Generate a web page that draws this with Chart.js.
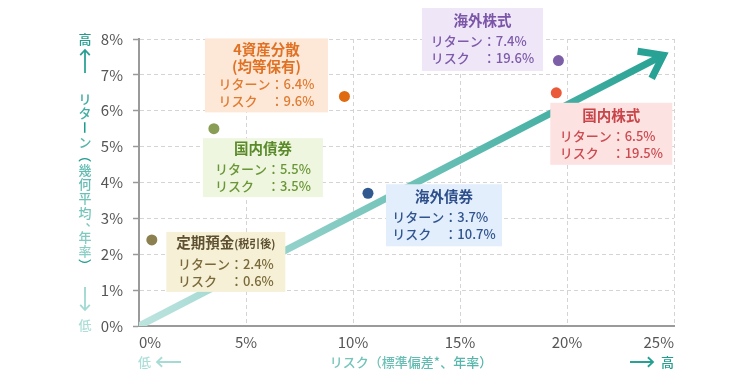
<!DOCTYPE html>
<html>
<head>
<meta charset="utf-8">
<script src="https://cdn.jsdelivr.net/npm/chart.js@4.4.1/dist/chart.umd.min.js"></script>
<style>
  html, body { margin: 0; padding: 0; background: #fff; }
</style>
</head>
<body>
<canvas id="myChart" width="750" height="380"></canvas>
<script>
// data
const assetNames = ['定期預金', '国内債券', '4資産分散', '海外債券', '国内株式', '海外株式'];
const assetNotes = ['(税引後)', '', '(均等保有)', '', '', ''];
const assetRisk = [0.6, 3.5, 9.6, 10.7, 19.5, 19.6];
const assetReturn = [2.4, 5.5, 6.4, 3.7, 6.5, 7.4];
const xTicks = [0, 5, 10, 15, 20, 25];
const yTicks = [0, 1, 2, 3, 4, 5, 6, 7, 8];
const arrowX = [0, 24.5];
const arrowY = [0, 7.55];

const FONT = "'Noto Sans CJK JP', 'Noto Sans', sans-serif";

// box placement / colours (offset from the dot)
const boxLayout = [
  { dx: 74, dy: 22, w: 119, h: 60, bg: '#f6f0d6', head: '#5e5030', text: '#7a6a3a', dot: '#8c8050', inline: true },
  { dx: 49, dy: 39, w: 120, h: 59, bg: '#eef6e0', head: '#5a8a2a', text: '#6a9636', dot: '#8a9d55' },
  { dx: -78, dy: -21, w: 123, h: 74, bg: '#fde8d8', head: '#e07225', text: '#e07b30', dot: '#e06a10' },
  { dx: 76, dy: 22, w: 116, h: 62, bg: '#e2eefb', head: '#2e4f8c', text: '#30548f', dot: '#305a8f' },
  { dx: 55, dy: 41, w: 122, h: 62, bg: '#fde2e2', head: '#c8454a', text: '#cc4b50', dot: '#ea5a3a' },
  { dx: -76, dy: -21, w: 121, h: 63, bg: '#efe6f8', head: '#7a55a8', text: '#7d5aaa', dot: '#7d5fa8' }
];

function arrowLine(ctx, x1, y1, x2, y2, arm) {
  const ang = Math.atan2(y2 - y1, x2 - x1);
  ctx.beginPath();
  ctx.moveTo(x1, y1);
  ctx.lineTo(x2, y2);
  ctx.moveTo(x2 - arm * Math.cos(ang - 0.75), y2 - arm * Math.sin(ang - 0.75));
  ctx.lineTo(x2, y2);
  ctx.lineTo(x2 - arm * Math.cos(ang + 0.75), y2 - arm * Math.sin(ang + 0.75));
  ctx.stroke();
}

const arrowHeadPlugin = {
  id: 'arrowHead',
  afterDatasetDraw(chart, args) {
    if (args.index !== 0) return;
    const ctx = chart.ctx;
    const pts = args.meta.data;
    const a = pts[pts.length - 2], b = pts[pts.length - 1];
    const ang = Math.atan2(b.y - a.y, b.x - a.x);
    const len = 26, spread = 0.63;
    ctx.save();
    ctx.strokeStyle = '#27a294';
    ctx.lineWidth = 7;
    ctx.lineJoin = 'miter';
    ctx.lineCap = 'butt';
    ctx.beginPath();
    ctx.moveTo(b.x - len * Math.cos(ang - spread), b.y - len * Math.sin(ang - spread));
    ctx.lineTo(b.x, b.y);
    ctx.lineTo(b.x - len * Math.cos(ang + spread), b.y - len * Math.sin(ang + spread));
    ctx.stroke();
    ctx.restore();
  }
};

const boxPlugin = {
  id: 'assetBoxes',
  afterDatasetsDraw(chart) {
    const ctx = chart.ctx;
    const pts = chart.getDatasetMeta(1).data;
    pts.forEach((pt, i) => {
      const b = boxLayout[i];
      const cx = pt.x + b.dx, cy = pt.y + b.dy;
      ctx.save();
      ctx.fillStyle = b.bg;
      ctx.fillRect(cx - b.w / 2, cy - b.h / 2, b.w, b.h);

      const twoLineTitle = assetNotes[i] && !b.inline;
      const blockH = (twoLineTitle ? 16.5 + 18 : 20.5) + 17;
      let y = cy - blockH / 2;

      ctx.textBaseline = 'middle';
      ctx.fillStyle = b.head;
      const headFont = `bold 14.5px ${FONT}`;
      if (b.inline && assetNotes[i]) {
        ctx.font = headFont;
        const w1 = ctx.measureText(assetNames[i]).width;
        ctx.font = `bold 11px ${FONT}`;
        const w2 = ctx.measureText(assetNotes[i]).width;
        let x = cx - (w1 + w2) / 2;
        ctx.textAlign = 'left';
        ctx.textBaseline = 'alphabetic';
        ctx.font = headFont;
        ctx.fillText(assetNames[i], x, y + 5);
        ctx.font = `bold 11px ${FONT}`;
        ctx.fillText(assetNotes[i], x + w1, y + 4.5);
        ctx.textBaseline = 'middle';
        y += 20.5;
      } else {
        ctx.font = headFont;
        ctx.textAlign = 'center';
        ctx.fillText(assetNames[i], cx, y);
        if (twoLineTitle) {
          y += 16.5;
          ctx.fillText(assetNotes[i], cx, y);
          y += 18;
        } else {
          y += 20.5;
        }
      }

      const lines = [
        `リターン：${assetReturn[i].toFixed(1)}%`,
        `リスク　：${assetRisk[i].toFixed(1)}%`
      ];
      ctx.font = `500 13px ${FONT}`;
      ctx.fillStyle = b.text;
      ctx.textAlign = 'left';
      const maxW = Math.max(...lines.map(t => ctx.measureText(t).width));
      const lx = cx - maxW / 2;
      ctx.fillText(lines[0], lx, y);
      ctx.fillText(lines[1], lx, y + 17);
      ctx.restore();
    });
  }
};

const axisTitlePlugin = {
  id: 'axisTitles',
  afterDraw(chart) {
    const ctx = chart.ctx;
    ctx.save();
    ctx.font = `500 13px ${FONT}`;
    ctx.textAlign = 'center';
    ctx.textBaseline = 'middle';
    ctx.lineWidth = 1.8;

    // y axis title, vertical
    const gy = ctx.createLinearGradient(0, 35, 0, 330);
    gy.addColorStop(0, '#1f9c8e');
    gy.addColorStop(1, '#addfd8');
    ctx.fillStyle = gy;
    ctx.strokeStyle = gy;
    const x = 85;
    ctx.fillText('高', x, 39);
    arrowLine(ctx, x, 73, x, 50, 7);
    let y = 99;
    for (const ch of 'リターン（幾何平均、年率）') {
      if (ch === 'ー' || ch === '（' || ch === '）') {
        ctx.save();
        ctx.translate(x, y);
        ctx.rotate(Math.PI / 2);
        ctx.fillText(ch, 0, 0);
        ctx.restore();
      } else if (ch === '、') {
        ctx.fillText(ch, x + 7, y - 7);
      } else {
        ctx.fillText(ch, x, y);
      }
      y += ch === '、' ? 10 : 14.2;
    }
    arrowLine(ctx, x, 287, x, 310, 7);
    ctx.fillText('低', x, 325);

    // x axis title
    const gx = ctx.createLinearGradient(137, 0, 675, 0);
    gx.addColorStop(0, '#addfd8');
    gx.addColorStop(1, '#1f9c8e');
    ctx.fillStyle = gx;
    ctx.strokeStyle = gx;
    const ty = 362;
    ctx.fillText('低', 144.5, ty);
    arrowLine(ctx, 181, ty, 157, ty, 7);
    ctx.fillText('リスク（標準偏差*、年率）', 411, ty);
    arrowLine(ctx, 630, ty, 653, ty, 7);
    ctx.fillText('高', 667.5, ty);
    ctx.restore();
  }
};

const ctx = document.getElementById('myChart').getContext('2d');
const chart = new Chart(ctx, {
  type: 'scatter',
  data: {
    datasets: [
      {
        type: 'line',
        data: arrowX.map((v, i) => ({ x: v, y: arrowY[i] })),
        borderWidth: 7,
        borderCapStyle: 'butt',
        pointRadius: 0,
        order: 2,
        borderColor: (c) => {
          const ch = c.chart;
          const a = ch.chartArea;
          if (!a) return '#5bbcb0';
          const sx = ch.scales.x, sy = ch.scales.y;
          const g = ch.ctx.createLinearGradient(
            sx.getPixelForValue(arrowX[0]), sy.getPixelForValue(arrowY[0]),
            sx.getPixelForValue(arrowX[1]), sy.getPixelForValue(arrowY[1]));
          g.addColorStop(0, '#bde4df');
          g.addColorStop(1, '#27a294');
          return g;
        }
      },
      {
        data: assetRisk.map((v, i) => ({ x: v, y: assetReturn[i] })),
        pointRadius: 5.5,
        pointBorderWidth: 0,
        pointBackgroundColor: boxLayout.map(b => b.dot),
        order: 1
      }
    ]
  },
  options: {
    responsive: false,
    animation: false,
    devicePixelRatio: 1,
    layout: { padding: { top: 39, right: 76, bottom: 0, left: 0 } },
    plugins: { legend: { display: false }, tooltip: { enabled: false } },
    scales: {
      x: {
        type: 'linear',
        min: xTicks[0],
        max: xTicks[xTicks.length - 1],
        afterBuildTicks: (s) => { s.ticks = xTicks.map(v => ({ value: v })); },
        afterFit: (s) => { s.height = 54; },
        ticks: {
          callback: (v) => v + '%',
          align: 'inner',
          padding: 7,
          color: '#555',
          font: { family: FONT, size: 15 }
        },
        grid: { color: '#d4d4d4', drawTicks: false },
        border: { color: '#9a9a9a', width: 2, dash: [4, 3] }
      },
      y: {
        min: yTicks[0],
        max: yTicks[yTicks.length - 1],
        afterBuildTicks: (s) => { s.ticks = yTicks.map(v => ({ value: v })); },
        afterFit: (s) => { s.width = 139; },
        ticks: {
          callback: (v) => v + '%',
          padding: 10,
          color: '#555',
          font: { family: FONT, size: 15 }
        },
        grid: { color: '#d4d4d4', tickLength: 6, tickColor: '#9a9a9a', tickWidth: 1.5 },
        border: { color: '#9a9a9a', width: 2, dash: [4, 3] }
      }
    }
  },
  plugins: [arrowHeadPlugin, boxPlugin, axisTitlePlugin]
});
</script>
</body>
</html>
